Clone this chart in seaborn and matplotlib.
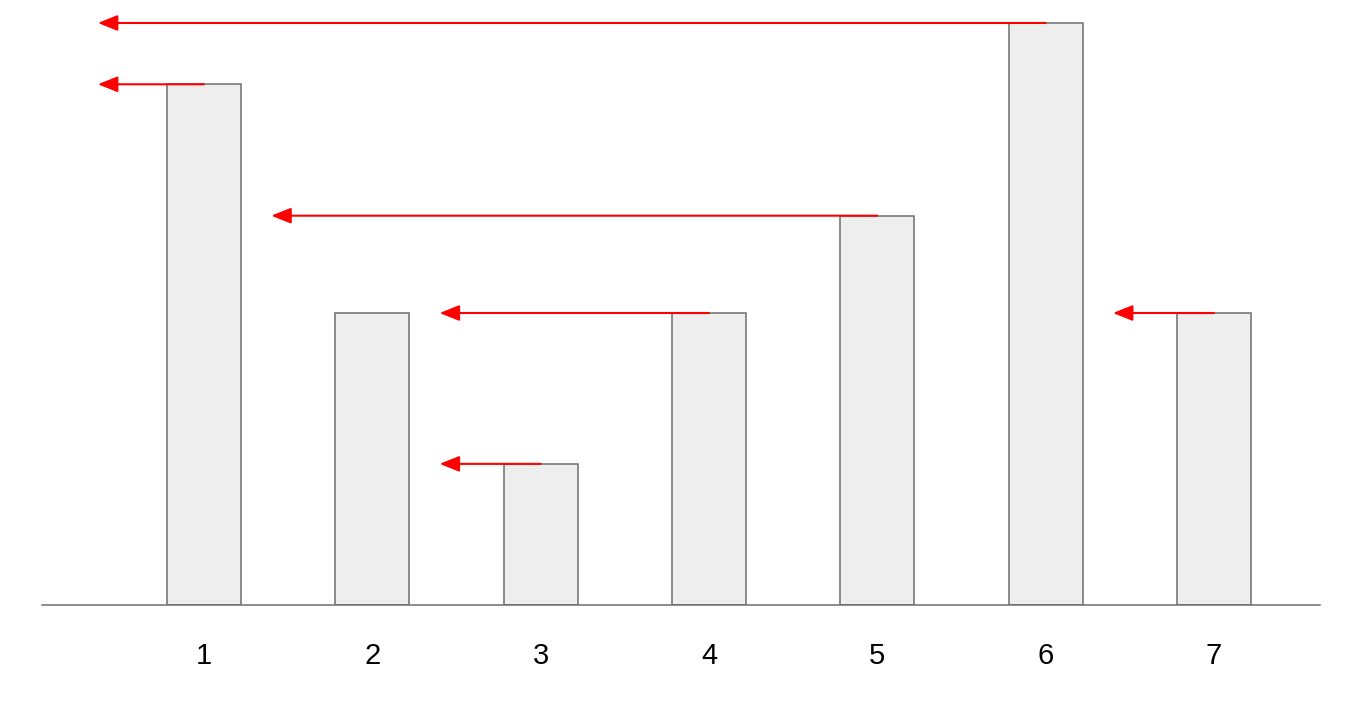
import matplotlib
matplotlib.use("Agg")
import matplotlib.pyplot as plt
import seaborn as sns
import pandas as pd

categories = ["1", "2", "3", "4", "5", "6", "7"]
values = [5.35, 3.0, 1.45, 3.0, 4.0, 5.98, 3.0]
# arrows: from bar (label) pointing left to just past the target bar (None = to the far left)
arrow_from = ["1", "3", "4", "5", "6", "7"]
arrow_to = [None, "2", "2", "1", None, "6"]

sns.set_theme(style="white")
plt.rcParams["font.family"] = ["Liberation Sans", "DejaVu Sans"]

fig = plt.figure(figsize=(13.6, 7.02), dpi=100)
ax = fig.add_axes([42 / 1360, 1 - 605 / 702, 1278 / 1360, 605 / 702])

df = pd.DataFrame({"cat": categories, "val": values})
sns.barplot(data=df, x="cat", y="val", ax=ax, color="#eeeeee", saturation=1,
            width=0.44, edgecolor="#6e6e6e", linewidth=1.1)

ax.set_xlim(-0.962, 6.63)
ax.set_ylim(0, 6.216)
ax.set_xlabel("")
ax.set_ylabel("")
ax.set_yticks([])
for s in ["top", "left", "right"]:
    ax.spines[s].set_visible(False)
ax.spines["bottom"].set_color("#6e6e6e")
ax.spines["bottom"].set_linewidth(1.1)
ax.tick_params(axis="x", length=0, pad=27, labelsize=21, colors="#000000")

idx = {c: i for i, c in enumerate(categories)}
half_w = 0.22
gap = 0.18
left_end = -0.63
for src, dst in zip(arrow_from, arrow_to):
    i = idx[src]
    y = values[i]
    x_end = left_end if dst is None else idx[dst] + half_w + gap
    ax.annotate("", xy=(x_end, y), xytext=(i, y),
                arrowprops=dict(arrowstyle="-|>,head_length=0.8,head_width=0.32",
                                mutation_scale=15, color="#ff0000", lw=1.5,
                                shrinkA=0, shrinkB=0),
                zorder=5, annotation_clip=False)

fig.savefig("out.png", dpi=100, facecolor="white")
